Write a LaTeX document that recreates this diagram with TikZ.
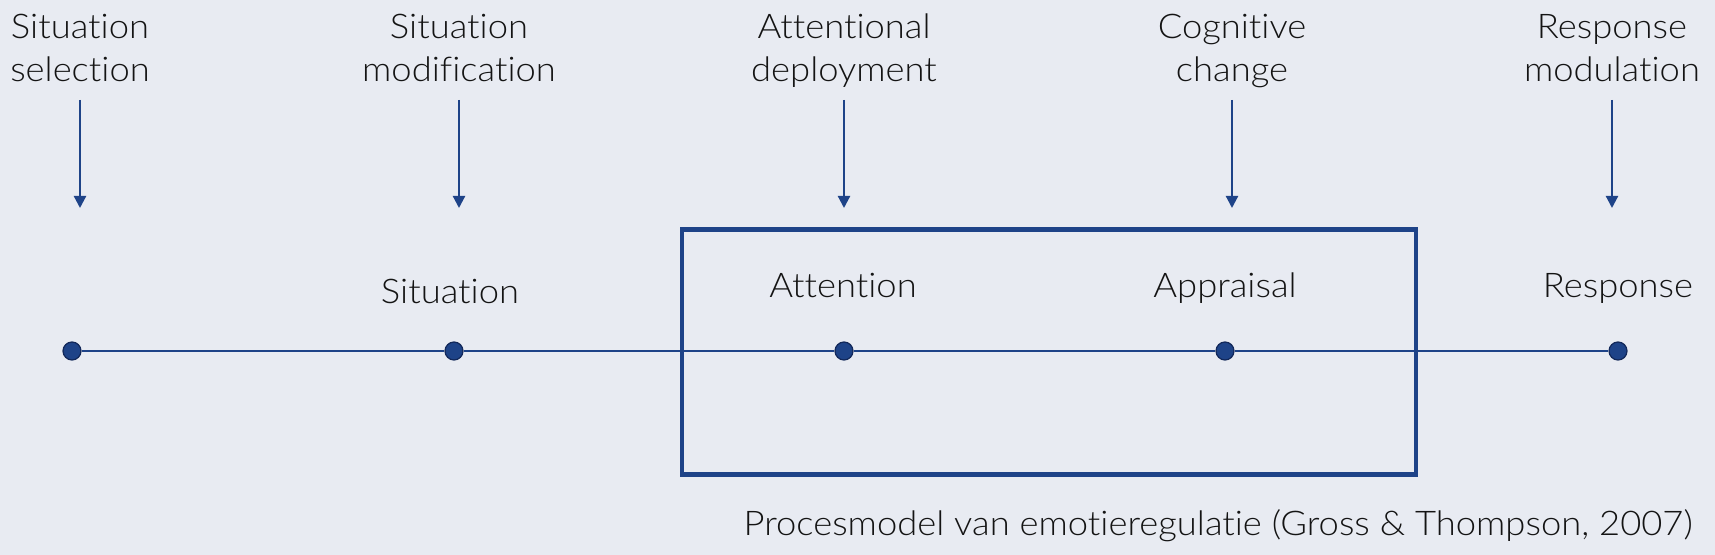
\documentclass[tikz,border=0pt]{standalone}
\usepackage{fontspec}
\setmainfont{Lato Light}[FakeStretch=1.07, Ligatures={NoCommon}]
\usetikzlibrary{positioning, arrows.meta}

\definecolor{paper}{RGB}{232,235,242}
\definecolor{navy}{RGB}{30,67,136}
\definecolor{navydark}{RGB}{18,40,90}

\begin{document}
\begin{tikzpicture}[
    x=0.5pt, y=-0.5pt,
    font=\fontsize{17}{21.5}\selectfont,
    every node/.style={align=center, text=black!92, inner sep=0pt},
    %% strategy label on top, two lines (base = last line)
    strategy/.style={anchor=base},
    %% stage label above a point of the timeline
    stagelab/.style={anchor=base},
    %% point on the timeline
    dot/.style={circle, fill=navy, draw=navydark, line width=0.6pt,
        minimum size=9pt, inner sep=0pt},
    %% the timeline
    axis/.style={draw=navy, line width=1.35pt},
    %% strategy acts on the process
    acts/.style={-{Triangle[length=6pt, width=6pt]}, draw=navy, line width=1.1pt},
    %% frame round attention and appraisal
    frame/.style={draw=navy, line width=2.4pt, outer sep=0pt}
]

%%-------------------------------------------------------------- background
\fill[paper] (0,0) rectangle (1715,555);
\useasboundingbox (0,0) rectangle (1715,555);

%%-------------------------------------------------------------- strategies
\node[strategy] (sel)  at (80,82)   {Situation\\selection};
\node[strategy] (mod)  at (459,82)  {Situation\\modification};
\node[strategy] (dep)  at (844,82)  {Attentional\\deployment};
\node[strategy] (cog)  at (1232,82) {Cognitive\\change};
\node[strategy] (mdl)  at (1612,82) {Response\\modulation};

\coordinate (sel-top) at (80,100);    \coordinate (sel-tip) at (80,208);
\coordinate (mod-top) at (459,100);   \coordinate (mod-tip) at (459,208);
\coordinate (dep-top) at (844,100);   \coordinate (dep-tip) at (844,208);
\coordinate (cog-top) at (1232,100);  \coordinate (cog-tip) at (1232,208);
\coordinate (mdl-top) at (1612,100);  \coordinate (mdl-tip) at (1612,208);

%%-------------------------------------------------------------- timeline
\node[dot] (p-sel)  at (72,351)   {};
\node[dot] (p-sit)  at (454,351)  {};
\node[dot] (p-att)  at (844,351)  {};
\node[dot] (p-app)  at (1225,351) {};
\node[dot] (p-resp) at (1618,351) {};

\node[stagelab] (situation) at (450,304)  {Situation};
\node[stagelab] (attention) at (843,298)  {Attention};
\node[stagelab] (appraisal) at (1225,298) {Appraisal};
\node[stagelab] (response)  at (1618,298) {Response};

%%-------------------------------------------------------------- frame
\node[frame, minimum width=367pt, minimum height=122.5pt, anchor=north west]
    (box) at (682,229.5) {};

%%-------------------------------------------------------------- edges
\draw[axis] (p-sel) -- (p-sit) -- (p-att) -- (p-app) -- (p-resp);

\draw[acts] (sel-top) -- (sel-tip);
\draw[acts] (mod-top) -- (mod-tip);
\draw[acts] (dep-top) -- (dep-tip);
\draw[acts] (cog-top) -- (cog-tip);
\draw[acts] (mdl-top) -- (mdl-tip);

%%-------------------------------------------------------------- caption
\node[anchor=base east] (caption) at (1693,536)
    {Procesmodel van emotieregulatie (Gross \& Thompson, 2007)};

\end{tikzpicture}
\end{document}
